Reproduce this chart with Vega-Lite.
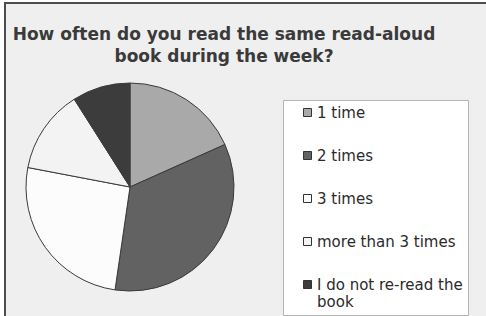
{
  "$schema": "https://vega.github.io/schema/vega-lite/v6.json",
  "autosize": {"type": "none"},
  "padding": {"left": 5, "top": 3, "right": 0, "bottom": 0},
  "width": 500,
  "height": 330,
  "background": "white",
  "view": {"fill": "#efefef", "stroke": "#4d4d4d", "strokeWidth": 2},
  "title": {
    "text": ["How often do you read the same read-aloud", "book during the week?"],
    "frame": "group",
    "anchor": "start",
    "align": "center",
    "dx": 219,
    "orient": "top",
    "offset": -63,
    "font": "DejaVu Sans",
    "fontSize": 17,
    "fontWeight": "bold",
    "color": "#3a3a3a",
    "lineHeight": 22
  },
  "data": {
    "values": [
      {"answer": "1 time", "percent": 18.3, "rank": 1},
      {"answer": "2 times", "percent": 34.0, "rank": 2},
      {"answer": "3 times", "percent": 25.7, "rank": 3},
      {"answer": "more than 3 times", "percent": 13.0, "rank": 4},
      {"answer": "I do not re-read the book", "percent": 9.0, "rank": 5}
    ]
  },
  "mark": {
    "type": "arc",
    "x": 125,
    "y": 184,
    "outerRadius": 104,
    "stroke": "#3a3a3a",
    "strokeWidth": 1
  },
  "encoding": {
    "theta": {"field": "percent", "type": "quantitative", "stack": true},
    "order": {"field": "rank", "type": "quantitative"},
    "color": {
      "field": "answer",
      "type": "nominal",
      "sort": ["1 time", "2 times", "3 times", "more than 3 times", "I do not re-read the book"],
      "scale": {
        "domain": ["1 time", "2 times", "3 times", "more than 3 times", "I do not re-read the book"],
        "range": ["#a9a9a9", "#626262", "#fcfcfc", "#f3f3f3", "#3c3c3c"]
      },
      "legend": {
        "orient": "none",
        "legendX": 278,
        "legendY": 97,
        "title": null,
        "fillColor": "white",
        "strokeColor": "#b5b5b5",
        "padding": 5,
        "symbolType": "square",
        "symbolSize": 64,
        "symbolStrokeColor": "#333333",
        "symbolStrokeWidth": 1,
        "symbolOffset": 12,
        "symbolOpacity": 1,
        "labelFont": "DejaVu Sans",
        "labelFontSize": 15,
        "labelColor": "#2a2a2a",
        "labelOffset": 2,
        "labelLimit": 250,
        "rowPadding": 27,
        "labelExpr": "datum.label == 'I do not re-read the book' ? ['I do not re-read the', 'book'] : datum.label"
      }
    }
  }
}
